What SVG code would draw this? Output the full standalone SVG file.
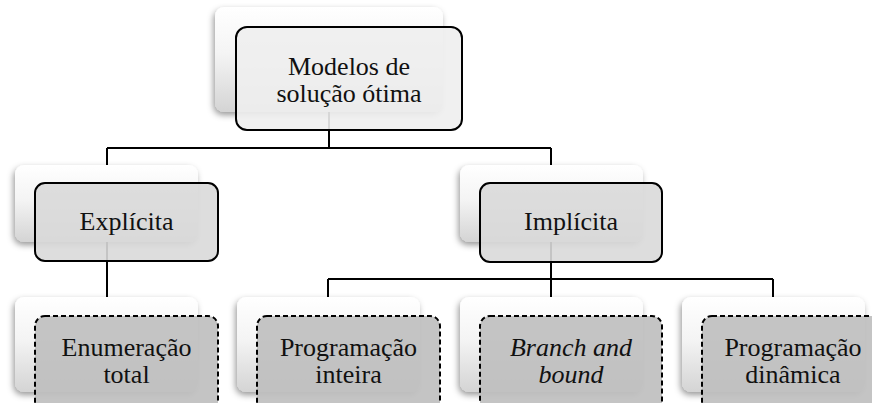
<svg xmlns="http://www.w3.org/2000/svg" width="872" height="403" viewBox="0 0 872 403">
  <defs>
    <linearGradient id="cardGrad" x1="0" y1="0" x2="0" y2="1">
      <stop offset="0" stop-color="#ffffff"/>
      <stop offset="0.45" stop-color="#f4f4f4"/>
      <stop offset="1" stop-color="#d4d4d4"/>
    </linearGradient>
    <filter id="shadow" x="-10%" y="-10%" width="125%" height="130%">
      <feDropShadow dx="-1.5" dy="3" stdDeviation="3" flood-color="#000" flood-opacity="0.4"/>
    </filter>
    <style>
      .card { fill: url(#cardGrad); filter: url(#shadow); }
      .box { stroke: #000; stroke-width: 2; }
      .lvl0 { fill: #eeeeee; fill-opacity: 0.9; }
      .lvl1 { fill: #d9d9d9; fill-opacity: 0.9; }
      .lvl2 { fill: #bfbfbf; fill-opacity: 0.92; stroke-dasharray: 5 3; }
      .lbl { font-family: "Liberation Serif", "Times New Roman", serif; font-size: 26px; fill: #111; text-anchor: middle; }
      .it { font-style: italic; }
      .conn { fill: none; stroke: #000; stroke-width: 2; }
    </style>
  </defs>

  <rect width="872" height="403" fill="#ffffff"/>

  <!-- background cards -->
  <g id="cards">
    <rect class="card" x="215" y="7" width="228" height="105" rx="9"/>
    <rect class="card" x="15" y="165" width="183" height="77" rx="9"/>
    <rect class="card" x="460" y="165" width="183" height="77" rx="9"/>
    <rect class="card" x="15" y="297" width="183" height="95" rx="9"/>
    <rect class="card" x="237" y="297" width="183" height="95" rx="9"/>
    <rect class="card" x="460" y="297" width="183" height="95" rx="9"/>
    <rect class="card" x="682" y="297" width="183" height="95" rx="9"/>
  </g>

  <!-- connectors -->
  <g id="connectors">
    <path class="conn" d="M329 112 V148 M107 148 H551 M107 148 V165 M551 148 V165"/>
    <path class="conn" d="M107 242 V297"/>
    <path class="conn" d="M551 242 V279 M328 279 H773 M328 279 V297 M551 279 V297 M773 279 V297"/>
  </g>

  <g id="root">
    <rect class="box lvl0" x="236" y="27" width="226" height="103" rx="11"/>
    <text class="lbl" x="349" y="75">Modelos de</text>
    <text class="lbl" x="349" y="102">solução ótima</text>
  </g>

  <g id="explicita">
    <rect class="box lvl1" x="35" y="183" width="183" height="78" rx="10"/>
    <text class="lbl" x="126.5" y="230">Explícita</text>
  </g>

  <g id="implicita">
    <rect class="box lvl1" x="480" y="183" width="182" height="79" rx="10"/>
    <text class="lbl" x="571" y="230">Implícita</text>
  </g>

  <g id="enumeracao">
    <rect class="box lvl2" x="35" y="316" width="183" height="96" rx="10"/>
    <text class="lbl" x="126.5" y="356">Enumeração</text>
    <text class="lbl" x="126.5" y="383">total</text>
  </g>

  <g id="prog-inteira">
    <rect class="box lvl2" x="257" y="316" width="183" height="96" rx="10"/>
    <text class="lbl" x="348.5" y="356">Programação</text>
    <text class="lbl" x="348.5" y="383">inteira</text>
  </g>

  <g id="branch-bound">
    <rect class="box lvl2" x="480" y="316" width="182" height="96" rx="10"/>
    <text class="lbl it" x="571" y="356">Branch and</text>
    <text class="lbl it" x="571" y="383">bound</text>
  </g>

  <g id="prog-dinamica">
    <rect class="box lvl2" x="702" y="316" width="183" height="96" rx="10"/>
    <text class="lbl" x="793" y="356">Programação</text>
    <text class="lbl" x="793" y="383">dinâmica</text>
  </g>
</svg>
